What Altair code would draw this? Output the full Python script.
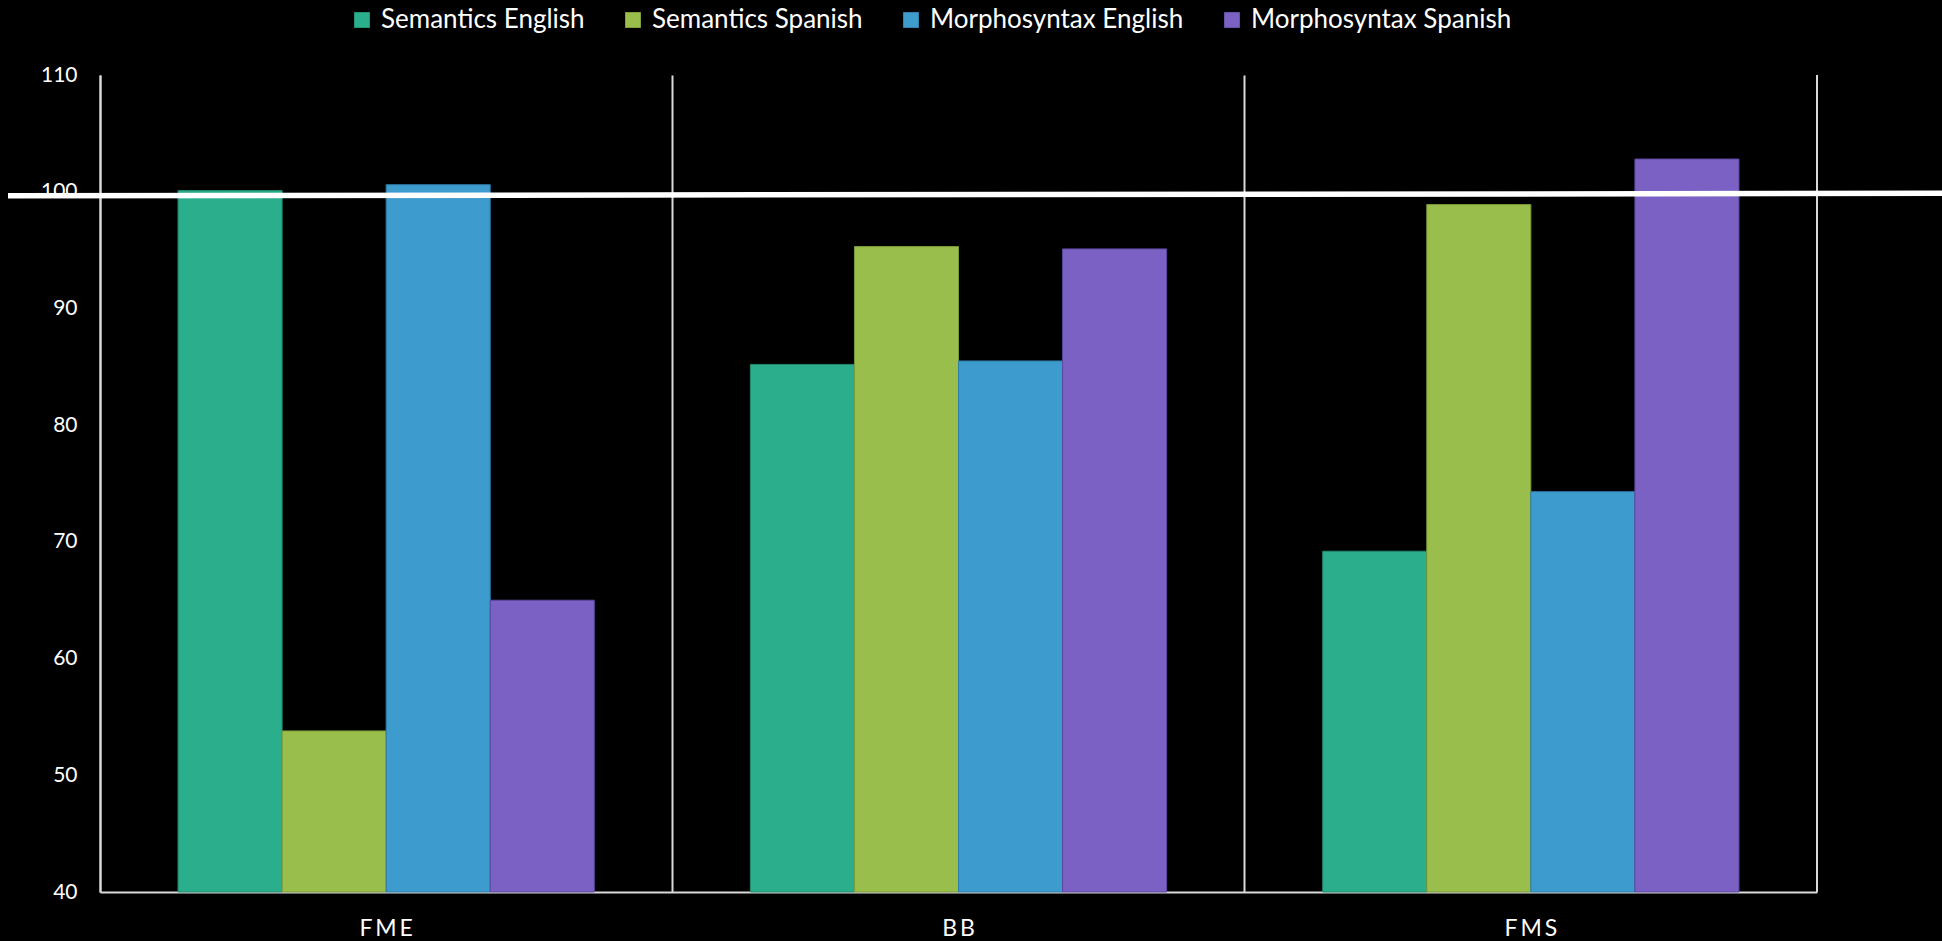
import altair as alt
import pandas as pd

# Groups along the x axis and the four measured series
categories = ["FME", "BB", "FMS"]
series = ["Semantics English", "Semantics Spanish", "Morphosyntax English", "Morphosyntax Spanish"]

semantics_english = [100.1, 85.2, 69.2]
semantics_spanish = [53.8, 95.3, 98.9]
morphosyntax_english = [100.6, 85.5, 74.3]
morphosyntax_spanish = [65.0, 95.1, 102.8]

# y axis range and tick values
y_min, y_max = 40, 110
y_ticks = [40, 50, 60, 70, 80, 90, 100, 110]

# Hand-drawn reference line near 100 (slightly tilted: left end, right end)
ref_left = [99.65]
ref_right = [99.86]

fill_colors = ["#2BAE8C", "#9ABE4C", "#3E9BCD", "#7B61C4"]
edge_colors = ["#23896F", "#7A9A3A", "#2F7CA6", "#5E48A0"]

series_values = [semantics_english, semantics_spanish, morphosyntax_english, morphosyntax_spanish]
rows = []
for name, vals in zip(series, series_values):
    for cat, v in zip(categories, vals):
        rows.append({"group": cat, "series": name, "value": v})
df = pd.DataFrame(rows)

W, H = 1717, 817
LINE = "#D9D9D9"
FONT = "Lato"

bars = alt.Chart(df).mark_bar(strokeWidth=1).encode(
    x=alt.X(
        "group:N",
        sort=categories,
        scale=alt.Scale(paddingInner=0, paddingOuter=0),
        axis=alt.Axis(
            title=None,
            labelAngle=0,
            ticks=False,
            grid=True,
            gridColor=LINE,
            gridWidth=2,
            bandPosition=0,
            domainColor=LINE,
            domainWidth=2,
            labelColor="white",
            labelFont=FONT,
            labelFontSize=23,
            labelPadding=25,
            labelExpr="join(split(datum.label, ''), '\u2009')",
        ),
    ),
    xOffset=alt.XOffset(
        "series:N",
        sort=series,
        scale=alt.Scale(paddingInner=0, paddingOuter=0.75),
    ),
    y=alt.Y(
        "value:Q",
        scale=alt.Scale(domain=[y_min, y_max], zero=False, nice=False),
        axis=alt.Axis(
            title=None,
            values=y_ticks,
            ticks=False,
            grid=False,
            domainColor=LINE,
            domainWidth=2,
            labelColor="white",
            labelFont=FONT,
            labelFontSize=21,
            labelPadding=23,
        ),
    ),
    y2=alt.datum(y_min),
    color=alt.Color(
        "series:N",
        sort=series,
        scale=alt.Scale(domain=series, range=fill_colors),
        legend=alt.Legend(
            title=None,
            orient="none",
            direction="horizontal",
            legendX=249,
            legendY=-68,
            symbolType="square",
            symbolSize=246,
            symbolStrokeWidth=0,
            labelColor="white",
            labelFont=FONT,
            labelFontSize=26,
            labelOffset=6,
            labelLimit=400,
            columnPadding=35,
            padding=0,
        ),
    ),
    stroke=alt.Stroke(
        "series:N",
        sort=series,
        scale=alt.Scale(domain=series, range=edge_colors),
        legend=None,
    ),
)

# closing vertical line on the right side of the plot
right_edge = alt.Chart(alt.Data(values=[{}])).mark_rule(color=LINE, strokeWidth=2).encode(
    x=alt.value(W), y=alt.value(0), y2=alt.value(H)
)

ref_df = pd.DataFrame({"left": ref_left, "right": ref_right})
ref_line = alt.Chart(ref_df).mark_rule(color="white", strokeWidth=5.5).encode(
    x=alt.value(-92),
    x2=alt.value(1942 - 100),
    y=alt.Y("left:Q"),
    y2=alt.Y2("right:Q"),
)

chart = (
    alt.layer(bars, right_edge, ref_line)
    .properties(
        width=W,
        height=H,
        autosize=alt.AutoSizeParams(type="none"),
        padding={"left": 100, "top": 75, "right": 125, "bottom": 49},
        background="black",
    )
    .configure_view(stroke=None)
)

chart.save("out.html", embed_options={"renderer": "svg", "actions": False})
